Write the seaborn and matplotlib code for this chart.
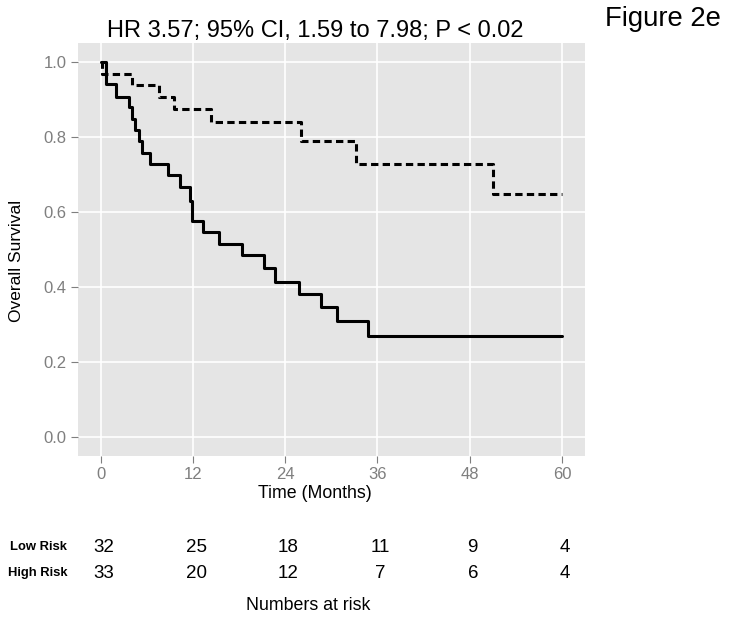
import numpy as np
import pandas as pd
import matplotlib
matplotlib.use("Agg")
import matplotlib.pyplot as plt
import matplotlib.transforms as mtransforms
import seaborn as sns

# ---- data ----
high_t = [0, 0.7, 1.94, 3.66, 4.0, 4.5, 4.95, 5.4, 6.45, 8.7, 10.3, 11.6, 11.85,
          13.3, 15.4, 18.4, 21.3, 22.7, 25.8, 28.7, 30.8, 34.8, 60]
high_s = [1.0, 0.941, 0.907, 0.879, 0.848, 0.819, 0.790, 0.757, 0.727, 0.698, 0.668, 0.630, 0.576,
          0.547, 0.514, 0.485, 0.450, 0.415, 0.382, 0.347, 0.309, 0.269, 0.269]
low_t = [0, 0.1, 4.1, 7.6, 9.5, 14.4, 26.0, 33.2, 51.0, 60]
low_s = [1.0, 0.969, 0.938, 0.907, 0.875, 0.841, 0.790, 0.729, 0.647, 0.647]

time_ticks = [0, 12, 24, 36, 48, 60]
surv_ticks = [0.0, 0.2, 0.4, 0.6, 0.8, 1.0]
groups = ["Low Risk", "High Risk"]
at_risk_low = [32, 25, 18, 11, 9, 4]
at_risk_high = [33, 20, 12, 7, 6, 4]

title = "HR 3.57; 95% CI, 1.59 to 7.98; P < 0.02"

df = pd.concat([
    pd.DataFrame({"time": low_t, "surv": low_s, "group": groups[0]}),
    pd.DataFrame({"time": high_t, "surv": high_s, "group": groups[1]}),
], ignore_index=True)

sns.set_theme(style="darkgrid", rc={
    "axes.facecolor": "#E5E5E5",
    "grid.color": "white",
    "grid.linewidth": 1.2,
})
plt.rcParams["font.family"] = ["Liberation Sans", "DejaVu Sans"]

W, H = 729, 619
fig = plt.figure(figsize=(W / 100, H / 100), dpi=100)
ax = fig.add_axes([77.7 / W, 1 - 456 / H, (585 - 77.7) / W, (456 - 43.3) / H])

sns.lineplot(data=df, x="time", y="surv", style="group",
             dashes={"Low Risk": (2.4, 1.4), "High Risk": ""},
             color="black", linewidth=2.2, drawstyle="steps-post",
             estimator=None, sort=False, legend=False, ax=ax)

ax.set_xlim(-3, 63)
ax.set_ylim(-0.05, 1.05)
ax.set_xticks(time_ticks)
ax.set_yticks(surv_ticks)
ax.set_yticklabels([f"{v:.1f}" for v in surv_ticks])
for s in ax.spines.values():
    s.set_visible(False)
ax.tick_params(axis="both", which="major", length=5, width=0.8, color="#7F7F7F",
               labelcolor="#7F7F7F", labelsize=12, pad=3)
ax.tick_params(axis="x", bottom=True)
ax.tick_params(axis="y", left=True)

ax.set_xlabel("Time (Months)", fontsize=12.8, color="black")
ax.xaxis.label.set_va("center")
ax.xaxis.set_label_coords((315 - 77.7) / (585 - 77.7), (456 - 493.5) / (456 - 43.3))
ax.set_ylabel("Overall Survival", fontsize=12.5, color="black")
ax.yaxis.label.set_va("center")
ax.yaxis.set_label_coords((17 - 77.7) / (585 - 77.7), (456 - 261) / (456 - 43.3))

fig.text(315 / W, 1 - 31 / H, title, ha="center", va="center", fontsize=17, color="black")
fig.text(663 / W, 1 - 19 / H, "Figure 2e", ha="center", va="center", fontsize=19.8, color="black")

# numbers at risk table
trans = mtransforms.blended_transform_factory(ax.transData, fig.transFigure)
row_y = [1 - 547 / H, 1 - 573 / H]
for lab, vals, yy in zip(groups, [at_risk_low, at_risk_high], row_y):
    fig.text(67 / W, yy, lab, ha="right", va="center", fontsize=9.4, fontweight="bold", color="black")
    for t, v in zip(time_ticks, vals):
        ax.text(t + 0.4, yy, str(v), transform=trans, ha="center", va="center",
                fontsize=13.5, color="black", clip_on=False)
fig.text(308.6 / W, 1 - 605 / H, "Numbers at risk", ha="center", va="center", fontsize=12.8, color="black")

fig.savefig("out.png", dpi=100, facecolor="white")
